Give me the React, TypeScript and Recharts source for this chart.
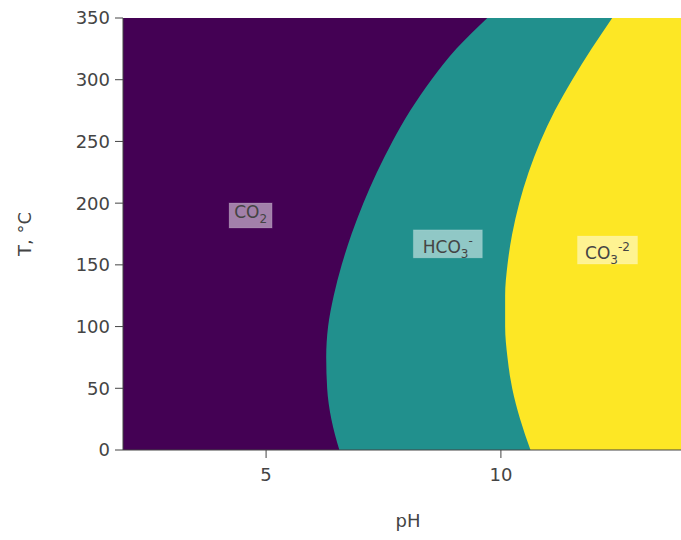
import React from "react";
import { ComposedChart, Area, XAxis, YAxis, CartesianGrid, ReferenceDot, Label } from "recharts";

// Temperature grid (°C) and the pH where the dominant carbonate species changes
const temps = [0, 25, 50, 75, 100, 125, 150, 175, 200, 225, 250, 275, 300, 325, 350];
const co2Edge = [6.56, 6.39, 6.3, 6.28, 6.32, 6.44, 6.61, 6.82, 7.07, 7.36, 7.69, 8.07, 8.52, 9.05, 9.71];
const hco3Edge = [10.63, 10.41, 10.24, 10.14, 10.09, 10.09, 10.14, 10.24, 10.39, 10.59, 10.84, 11.15, 11.52, 11.93, 12.37];

const tempTicks = [0, 50, 100, 150, 200, 250, 300, 350];
const phTicks = [5, 10];

const rows = temps.map((T, i) => ({ T, co2: co2Edge[i], hco3: hco3Edge[i] }));

const PURPLE = "#440154";
const TEAL = "#21908d";
const YELLOW = "#fde725";
const INK = "#444";

type TagProps = {
  cx?: number;
  cy?: number;
  base: string;
  sub: string;
  sup?: string;
  w: number;
};

function SpeciesTag({ cx = 0, cy = 0, base, sub, sup, w }: TagProps) {
  const h = sup ? 28 : 25;
  const baseline = cy + (sup ? 9 : 2.5);
  return (
    <g>
      <rect
        x={cx - w / 2}
        y={cy - h / 2}
        width={w}
        height={h}
        fill="rgba(255,255,255,0.5)"
        stroke="rgba(255,255,255,0.15)"
      />
      <text x={cx} y={baseline} textAnchor="middle" fill={INK} fontSize={17}>
        {base}
        <tspan dy={5} fontSize={12}>
          {sub}
        </tspan>
        {sup ? (
          <tspan dy={-13} fontSize={12}>
            {sup}
          </tspan>
        ) : null}
      </text>
    </g>
  );
}

export default function App() {
  return (
    <div style={{ position: "absolute", left: 0, top: 0, fontFamily: "'DejaVu Sans', Verdana, sans-serif" }}>
      <ComposedChart
        width={681}
        height={540}
        data={rows}
        layout="vertical"
        margin={{ top: 18, right: 0, bottom: 0, left: 0 }}
      >
        <CartesianGrid horizontal={false} vertical={false} fill={YELLOW} />
        <XAxis
          type="number"
          domain={[1.953, 13.835]}
          allowDataOverflow
          ticks={phTicks}
          height={90}
          tickSize={8}
          tickMargin={10}
          tick={{ fill: INK, fontSize: 18 }}
          stroke={INK}
        >
          <Label
            content={({ viewBox }: any) => (
              <text x={408} y={(viewBox?.y ?? 450) + 77} textAnchor="middle" fill={INK} fontSize={18}>
                pH
              </text>
            )}
          />
        </XAxis>
        <YAxis
          type="number"
          dataKey="T"
          domain={[0, 350]}
          reversed
          ticks={tempTicks}
          width={123}
          tickSize={8}
          tickMargin={5}
          tick={{ fill: INK, fontSize: 18 }}
          stroke={INK}
        >
          <Label
            content={({ viewBox }: any) => {
              const cy = (viewBox?.y ?? 18) + (viewBox?.height ?? 432) / 2;
              return (
                <text
                  x={24}
                  y={cy}
                  transform={`rotate(-90 24 ${cy})`}
                  textAnchor="middle"
                  dominantBaseline="central"
                  fill={INK}
                  fontSize={18}
                >
                  T, °C
                </text>
              );
            }}
          />
        </YAxis>
        <Area
          dataKey="hco3"
          type="monotone"
          baseValue="dataMin"
          fill={TEAL}
          fillOpacity={1}
          stroke="none"
          isAnimationActive={false}
        />
        <Area
          dataKey="co2"
          type="monotone"
          baseValue="dataMin"
          fill={PURPLE}
          fillOpacity={1}
          stroke="none"
          isAnimationActive={false}
        />
        <ReferenceDot x={4.67} y={190} r={0} shape={(p: any) => <SpeciesTag {...p} base="CO" sub="2" w={43} />} />
        <ReferenceDot x={8.87} y={167} r={0} shape={(p: any) => <SpeciesTag {...p} base="HCO" sub="3" sup="-" w={69} />} />
        <ReferenceDot x={12.27} y={162} r={0} shape={(p: any) => <SpeciesTag {...p} base="CO" sub="3" sup="-2" w={60} />} />
      </ComposedChart>
    </div>
  );
}
